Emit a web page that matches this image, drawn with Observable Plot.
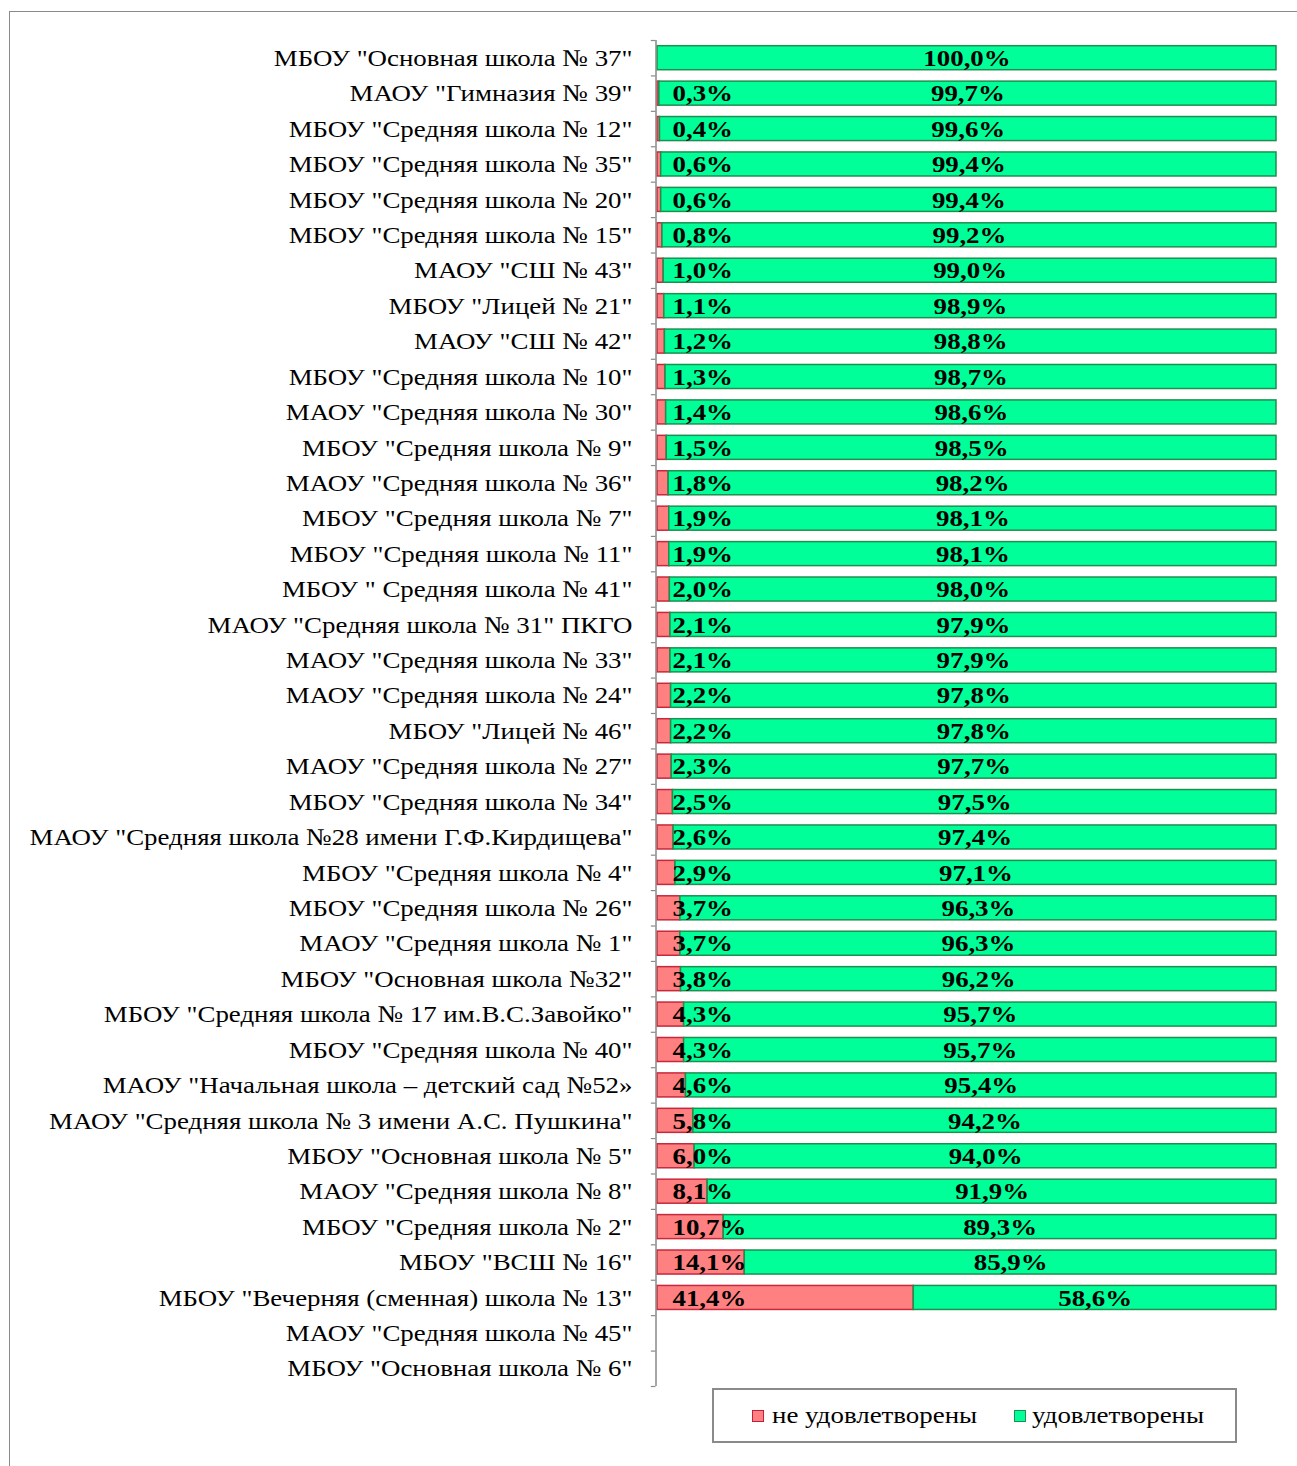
<!DOCTYPE html>
<html>
<head>
<meta charset="utf-8">
<script src="https://cdn.jsdelivr.net/npm/d3@7"></script>
<script src="https://cdn.jsdelivr.net/npm/@observablehq/plot@0.6"></script>
<style>
  body { margin: 0; background: #fff; }
  #wrap { position: relative; width: 1297px; height: 1466px; overflow: hidden; font-family: "Liberation Serif", "DejaVu Serif", serif; }
  #frame { position: absolute; left: 9px; top: 11px; width: 1290px; height: 1470px; border: 1.5px solid #8a8a8a; box-sizing: border-box; }
  #chart { position: absolute; left: 0; top: 0; }
  #legend { position: absolute; left: 712px; top: 1388px; width: 525px; height: 55px; border: 2px solid #8a8a8a; box-sizing: border-box; background: #fff; font-size: 24px; color: #000; }
  .sw { position: absolute; width: 10px; height: 10px; top: 20px; }
  .lt { position: absolute; top: 11px; line-height: 28px; transform: scaleX(1.12); transform-origin: left center; white-space: nowrap; }
</style>
</head>
<body>
<div id="wrap">
  <div id="frame"></div>
  <div id="chart"></div>
  <div id="legend">
    <span class="sw" style="left:38px;background:#ff8080;border:1.5px solid #c0203a"></span>
    <span class="lt" style="left:58px">не удовлетворены</span>
    <span class="sw" style="left:300px;background:#00ff99;border:1.5px solid #1f8f4f"></span>
    <span class="lt" style="left:318px">удовлетворены</span>
  </div>
</div>
<script>
const schools = [
  'МБОУ "Основная школа № 37"',
  'МАОУ "Гимназия № 39"',
  'МБОУ "Средняя школа № 12"',
  'МБОУ "Средняя школа № 35"',
  'МБОУ "Средняя школа № 20"',
  'МБОУ "Средняя школа № 15"',
  'МАОУ "СШ № 43"',
  'МБОУ "Лицей № 21"',
  'МАОУ "СШ № 42"',
  'МБОУ "Средняя школа № 10"',
  'МАОУ "Средняя школа № 30"',
  'МБОУ "Средняя школа № 9"',
  'МАОУ "Средняя школа № 36"',
  'МБОУ "Средняя школа № 7"',
  'МБОУ "Средняя школа № 11"',
  'МБОУ " Средняя школа № 41"',
  'МАОУ "Средняя школа № 31" ПКГО',
  'МАОУ "Средняя школа № 33"',
  'МАОУ "Средняя школа № 24"',
  'МБОУ "Лицей № 46"',
  'МАОУ "Средняя школа № 27"',
  'МБОУ "Средняя школа № 34"',
  'МАОУ "Средняя школа №28 имени Г.Ф.Кирдищева"',
  'МБОУ "Средняя школа № 4"',
  'МБОУ "Средняя школа № 26"',
  'МАОУ "Средняя школа № 1"',
  'МБОУ "Основная школа №32"',
  'МБОУ "Средняя школа № 17 им.В.С.Завойко"',
  'МБОУ "Средняя школа № 40"',
  'МАОУ "Начальная школа – детский сад №52»',
  'МАОУ "Средняя школа № 3 имени А.С. Пушкина"',
  'МБОУ "Основная школа № 5"',
  'МАОУ "Средняя школа № 8"',
  'МБОУ "Средняя школа № 2"',
  'МБОУ "ВСШ № 16"',
  'МБОУ "Вечерняя (сменная) школа № 13"',
  'МАОУ "Средняя школа № 45"',
  'МБОУ "Основная школа № 6"'
];
const notSatisfied = [0.0, 0.3, 0.4, 0.6, 0.6, 0.8, 1.0, 1.1, 1.2, 1.3, 1.4, 1.5, 1.8, 1.9, 1.9, 2.0, 2.1, 2.1, 2.2, 2.2, 2.3, 2.5, 2.6, 2.9, 3.7, 3.7, 3.8, 4.3, 4.3, 4.6, 5.8, 6.0, 8.1, 10.7, 14.1, 41.4, null, null];
const satisfied = [100.0, 99.7, 99.6, 99.4, 99.4, 99.2, 99.0, 98.9, 98.8, 98.7, 98.6, 98.5, 98.2, 98.1, 98.1, 98.0, 97.9, 97.9, 97.8, 97.8, 97.7, 97.5, 97.4, 97.1, 96.3, 96.3, 96.2, 95.7, 95.7, 95.4, 94.2, 94.0, 91.9, 89.3, 85.9, 58.6, null, null];

const rows = schools.map((s, i) => ({school: s, bad: notSatisfied[i], good: satisfied[i]}));
const withData = rows.filter(d => d.good != null);
const fmt = v => d3.format(".1f")(v).replace(".", ",") + "%";

const W = 1297, H = 1395, mt = 40, mb = 9;
const step = (H - mt - mb) / schools.length;
const serif = '"Liberation Serif", "DejaVu Serif", serif';

const chart = Plot.plot({
  width: W,
  height: H,
  marginLeft: 657,
  marginRight: 21,
  marginTop: mt,
  marginBottom: mb,
  style: {fontFamily: serif, fontSize: "24px", color: "#000", background: "transparent"},
  x: {domain: [0, 100], axis: null},
  y: {domain: schools, paddingInner: 0, paddingOuter: 0, round: false, insetTop: 0, insetBottom: 0, label: null},
  marks: [
    Plot.axisY({tickSize: 0, tickPadding: 25, fontSize: 24, fill: "#000"}),
    Plot.barX(withData.filter(d => d.bad > 0), {y: "school", x1: 0, x2: "bad", fill: "#ff8080", stroke: "#c8283c", strokeWidth: 1.5, insetTop: 5.7, insetBottom: 5.7}),
    Plot.barX(withData, {y: "school", x1: "bad", x2: d => d.bad + d.good, fill: "#00ff99", stroke: "#1f8f4f", strokeWidth: 1.5, insetTop: 5.7, insetBottom: 5.7}),
    Plot.ruleX([0], {stroke: "#8a8a8a", strokeWidth: 1.5, dx: -1.5}),
    Plot.ruleY(schools, {y: d => d, x1: -0.75, x2: 0, dx: -1.5, dy: -step / 2, stroke: "#8a8a8a", strokeWidth: 1.2}),
    Plot.ruleY([schools[schools.length - 1]], {y: d => d, x1: -0.75, x2: 0, dx: -1.5, dy: step / 2, stroke: "#8a8a8a", strokeWidth: 1.2}),
    Plot.text(withData.filter(d => d.bad > 0), {y: "school", x: 0, dx: 15, text: d => fmt(d.bad), textAnchor: "start", fontWeight: "bold", fontSize: 24, fill: "#000", fontFamily: serif}),
    Plot.text(withData, {y: "school", x: d => d.bad + d.good / 2, text: d => fmt(d.good), textAnchor: "middle", fontWeight: "bold", fontSize: 24, fill: "#000", fontFamily: serif})
  ]
});
document.getElementById("chart").appendChild(chart);

// the reference's text is slightly wider than Times: stretch horizontally around each anchor
const sx = 1.12;
chart.querySelectorAll('g[aria-label="y-axis tick label"] text, g[aria-label="text"] text').forEach(el => {
  const t = el.getAttribute("transform") || "";
  let x = parseFloat(el.getAttribute("x"));
  if (!isFinite(x)) x = 0;
  el.setAttribute("transform", `${t} translate(${x},0) scale(${sx},1) translate(${-x},0)`.trim());
});
</script>
</body>
</html>
